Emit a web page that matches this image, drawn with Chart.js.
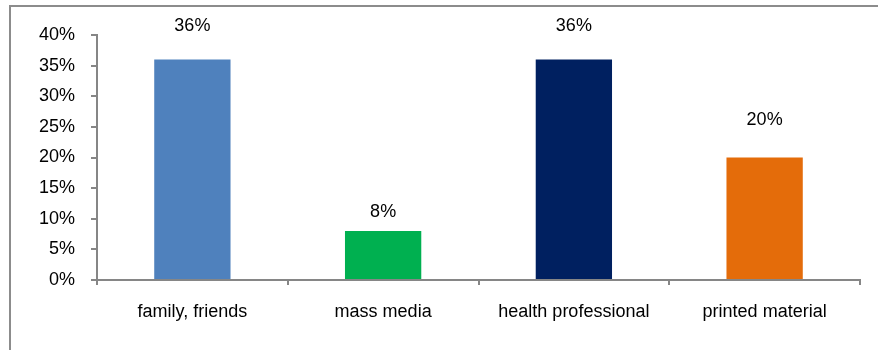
<!DOCTYPE html>
<html>
<head>
<meta charset="utf-8">
<script src="https://cdn.jsdelivr.net/npm/chart.js@4.4.0/dist/chart.umd.min.js"></script>
<style>
  html, body { margin: 0; padding: 0; background: #fff; }
  #wrap { position: relative; width: 878px; height: 350px; overflow: hidden; }
  #frame { position: absolute; left: 9px; top: 5px; width: 900px; height: 400px;
           border-left: 2px solid #8c8c8c; border-top: 2px solid #8c8c8c; }
  canvas { position: absolute; left: 0; top: 0; }
</style>
</head>
<body>
<div id="wrap">
  <div id="frame"></div>
  <canvas id="chart" width="878" height="350"></canvas>
</div>
<script>
// source categories and shares (%)
const categories = ['family, friends', 'mass media', 'health professional', 'printed material'];
const shares = [36, 8, 36, 20];
const barColors = ['#4F81BD', '#00B050', '#002060', '#E46C0A'];
// how far each value label sits above its bar (px)
const labelLift = [33, 19, 33, 37];

const axisColor = '#868686';
const font = { family: 'Liberation Sans, Arial, sans-serif', size: 18 };

// draw the value labels above each bar
const valueLabels = {
  id: 'valueLabels',
  afterDatasetsDraw(chart){
    const ctx = chart.ctx;
    const meta = chart.getDatasetMeta(0);
    ctx.save();
    ctx.font = `${font.size}px ${font.family}`;
    ctx.fillStyle = '#000';
    ctx.textAlign = 'center';
    ctx.textBaseline = 'middle';
    meta.data.forEach((bar, i) => {
      ctx.fillText(shares[i] + '%', bar.x, bar.y - labelLift[i]);
    });
    ctx.restore();
  }
};

new Chart(document.getElementById('chart'), {
  type: 'bar',
  data: {
    labels: categories,
    datasets: [{ data: shares, backgroundColor: barColors, categoryPercentage: 1, barPercentage: 0.4 }]
  },
  options: {
    responsive: false,
    animation: false,
    layout: { padding: { top: 35, right: 18, left: 0, bottom: 0 } },
    plugins: { legend: { display: false }, tooltip: { enabled: false } },
    scales: {
      x: {
        offset: true,
        grid: { display: true, offset: true, drawOnChartArea: false, drawTicks: true, tickLength: 5, color: axisColor, lineWidth: 2 },
        border: { display: true, color: axisColor, width: 2 },
        ticks: { color: '#000', font: font, padding: 16, maxRotation: 0 },
        afterFit(scale){ scale.height = 70; }
      },
      y: {
        min: 0, max: 40,
        grid: { display: true, drawOnChartArea: false, drawTicks: true, tickLength: 6, color: axisColor, lineWidth: 2 },
        border: { display: true, color: axisColor, width: 2 },
        ticks: { stepSize: 5, color: '#000', font: font, padding: 16, callback: v => v + '%' },
        afterFit(scale){ scale.width = 97; }
      }
    }
  },
  plugins: [valueLabels]
});
</script>
</body>
</html>
